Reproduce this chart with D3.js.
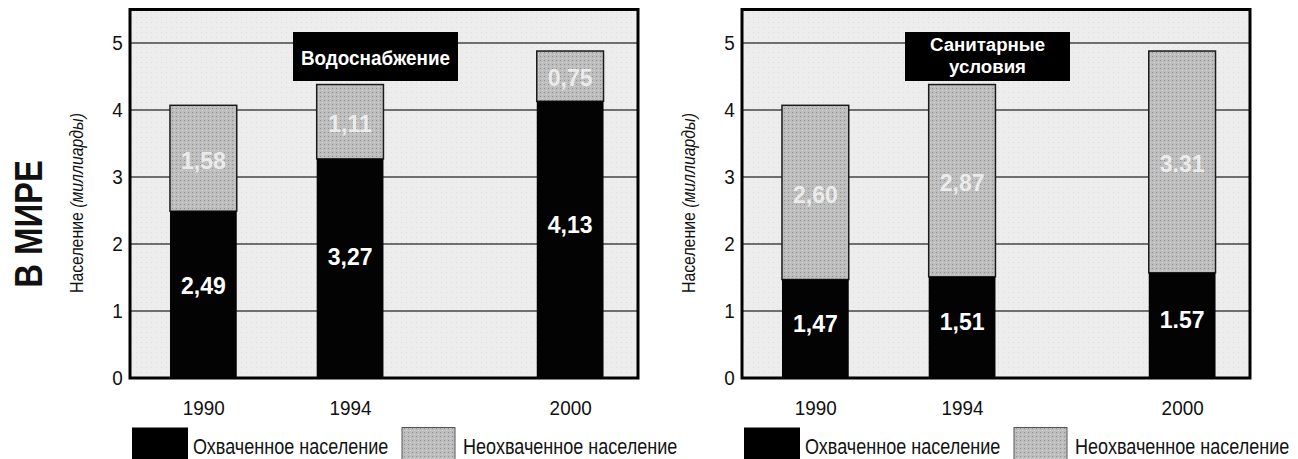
<!DOCTYPE html>
<html><head><meta charset="utf-8">
<script src="https://cdn.jsdelivr.net/npm/d3@7"></script>
<style>
body{margin:0;background:#fff}
svg{display:block}
text{font-family:"Liberation Sans",Arial,Helvetica,sans-serif;fill:#111}
</style>
</head><body>
<svg id="c" width="1298" height="459"></svg>
<script>
// ---- data ----
const years = [1990, 1994, 2000];
const yTicks = [0, 1, 2, 3, 4, 5];
const waterCovered = [2.49, 3.27, 4.13];
const waterUncovered = [1.58, 1.11, 0.75];
const waterCoveredLabels = ["2,49", "3,27", "4,13"];
const waterUncoveredLabels = ["1,58", "1,11", "0,75"];
const sanCovered = [1.47, 1.51, 1.57];
const sanUncovered = [2.60, 2.87, 3.31];
const sanCoveredLabels = ["1,47", "1,51", "1.57"];
const sanUncoveredLabels = ["2,60", "2,87", "3.31"];
const waterTitle = ["Водоснабжение"];
const sanTitle = ["Санитарные", "условия"];
const legendLabels = ["Охваченное население", "Неохваченное население"];
const yTitleParts = ["Население ", "(миллиарды)"];
const sideTitle = "В МИРЕ";

// ---- setup ----
const svg = d3.select("#c");
const defs = svg.append("defs");
const pat = defs.append("pattern").attr("id", "dots").attr("patternUnits", "userSpaceOnUse")
  .attr("width", 4).attr("height", 4);
pat.append("rect").attr("width", 4).attr("height", 4).attr("fill", "#bdbdbd");
pat.append("rect").attr("x", 0).attr("y", 0).attr("width", 1).attr("height", 1).attr("fill", "#8e8e8e");
pat.append("rect").attr("x", 2).attr("y", 2).attr("width", 1).attr("height", 1).attr("fill", "#d9d9d9");
const bgp = defs.append("pattern").attr("id", "bgdots").attr("patternUnits", "userSpaceOnUse")
  .attr("width", 5).attr("height", 5);
bgp.append("rect").attr("width", 5).attr("height", 5).attr("fill", "#ededed");
bgp.append("rect").attr("x", 1).attr("y", 2).attr("width", 1).attr("height", 1).attr("fill", "#dedede");

function squishText(sel, x, y, str, opt) {
  const t = sel.append("text")
    .attr("transform", `translate(${x},${y})` + (opt.rotate ? ` rotate(${opt.rotate})` : "") + ` scale(${opt.sx || 1},1)`)
    .attr("text-anchor", opt.anchor || "middle")
    .style("font-size", opt.size + "px")
    .style("font-weight", opt.weight || "normal")
    .style("fill", opt.fill || "#111");
  if (opt.opacity) t.style("fill-opacity", opt.opacity);
  if (str !== null) t.text(str);
  return t;
}

const X0 = 130, X1 = 638;
const y = d3.scaleLinear().domain([0, 5.5]).range([378, 9.5]);
const barYears = 1.82;

function drawChart(off, covered, uncovered, covLabels, uncLabels, title) {
  const g = svg.append("g").attr("transform", `translate(${off},0)`);
  const x = d3.scaleLinear().domain([1988, 2001.85]).range([X0, X1]);
  const bw = x(1990 + barYears) - x(1990);

  g.append("rect").attr("x", X0).attr("y", y(5.5)).attr("width", X1 - X0).attr("height", y(0) - y(5.5))
    .attr("fill", "url(#bgdots)");

  g.selectAll("line.grid").data(yTicks.filter(d => d > 0)).join("line").attr("class", "grid")
    .attr("x1", X0).attr("x2", X1).attr("y1", d => y(d)).attr("y2", d => y(d))
    .attr("stroke", "#444").attr("stroke-width", 1.4);

  const rows = years.map((yr, i) => ({ year: yr, covered: covered[i], uncovered: uncovered[i] }));
  const stack = d3.stack().keys(["covered", "uncovered"])(rows);

  // uncovered (top, gray)
  g.selectAll("rect.unc").data(stack[1]).join("rect").attr("class", "unc")
    .attr("x", d => x(d.data.year) - bw / 2).attr("width", bw)
    .attr("y", d => y(d[1])).attr("height", d => y(d[0]) - y(d[1]))
    .attr("fill", "url(#dots)").attr("stroke", "#1a1a1a").attr("stroke-width", 1.5);
  // covered (bottom, black)
  g.selectAll("rect.cov").data(stack[0]).join("rect").attr("class", "cov")
    .attr("x", d => x(d.data.year) - bw / 2).attr("width", bw)
    .attr("y", d => y(d[1])).attr("height", d => y(d[0]) - y(d[1]))
    .attr("fill", "#030303");

  // labels
  stack[0].forEach((d, i) => {
    squishText(g, x(d.data.year), y(d[1] * 0.555), covLabels[i], { size: 23, weight: "bold", fill: "#fff" })
      .attr("dy", "0.36em");
  });
  stack[1].forEach((d, i) => {
    squishText(g, x(d.data.year), (y(d[0]) + y(d[1])) / 2 + 2, uncLabels[i], { size: 23, weight: "bold", fill: "#f4f4f4", opacity: 0.85 })
      .attr("dy", "0.36em");
  });

  // frame
  g.append("rect").attr("x", X0).attr("y", y(5.5)).attr("width", X1 - X0).attr("height", y(0) - y(5.5))
    .attr("fill", "none").attr("stroke", "#000").attr("stroke-width", 3);

  // title box
  const bx = 293, bwid = 165;
  g.append("rect").attr("x", bx).attr("y", 32).attr("width", bwid).attr("height", 49).attr("fill", "#000");
  if (title.length === 1) {
    squishText(g, bx + bwid / 2, 65, title[0], { size: 21, weight: "bold", fill: "#fff", sx: 0.9 });
  } else {
    squishText(g, bx + bwid / 2, 51, title[0], { size: 19, weight: "bold", fill: "#fff", sx: 0.98 });
    squishText(g, bx + bwid / 2, 73, title[1], { size: 19, weight: "bold", fill: "#fff", sx: 0.98 });
  }

  // y axis
  const ya = g.append("g").attr("transform", `translate(${X0},0)`)
    .call(d3.axisLeft(y).tickValues(yTicks).tickSize(0).tickPadding(8).tickFormat(d3.format("d")));
  ya.select(".domain").remove();
  ya.selectAll("text").style("font-size", "21px").style("font-family", "'Liberation Sans',Arial,sans-serif")
    .style("fill", "#111").attr("transform", "scale(0.9,1)");

  // x axis
  const xa = g.append("g").attr("transform", `translate(0,${y(0)})`)
    .call(d3.axisBottom(x).tickValues(years).tickSize(0).tickPadding(22).tickFormat(d3.format("d")));
  xa.select(".domain").remove();
  xa.selectAll("text").style("font-size", "21px").style("font-family", "'Liberation Sans',Arial,sans-serif")
    .style("fill", "#111").attr("transform", "scale(0.9,1)");

  // y title
  const yt = squishText(g, 83, 203, null, { size: 18, rotate: -90, sx: 0.88 });
  yt.append("tspan").text(yTitleParts[0]);
  yt.append("tspan").style("font-style", "italic").text(yTitleParts[1]);

  // legend
  g.append("rect").attr("x", 132).attr("y", 427.5).attr("width", 56).attr("height", 40).attr("fill", "#000");
  squishText(g, 193, 454, legendLabels[0], { size: 22, anchor: "start", sx: 0.82 });
  g.append("rect").attr("x", 402).attr("y", 427.5).attr("width", 53).attr("height", 40)
    .attr("fill", "url(#dots)").attr("stroke", "#555").attr("stroke-width", 1);
  squishText(g, 463, 454, legendLabels[1], { size: 22, anchor: "start", sx: 0.82 });
}

drawChart(0, waterCovered, waterUncovered, waterCoveredLabels, waterUncoveredLabels, waterTitle);
drawChart(612, sanCovered, sanUncovered, sanCoveredLabels, sanUncoveredLabels, sanTitle);

squishText(svg, 42, 224, sideTitle, { size: 38, weight: "bold", rotate: -90, sx: 0.865 });
</script>
</body></html>
